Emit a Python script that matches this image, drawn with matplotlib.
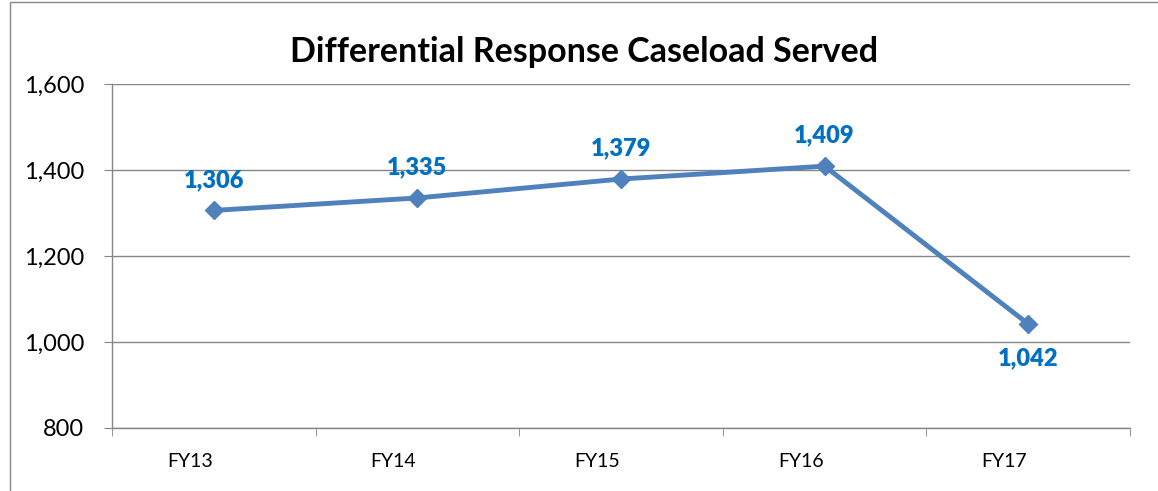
import matplotlib
matplotlib.use("Agg")
import matplotlib.pyplot as plt
from matplotlib.patches import Rectangle
from matplotlib.transforms import ScaledTranslation

categories = ["FY13", "FY14", "FY15", "FY16", "FY17"]
values = [1306, 1335, 1379, 1409, 1042]
yticks = [800, 1000, 1200, 1400, 1600]
title = "Differential Response Caseload Served"

plt.rcParams['font.family'] = ['Lato', 'DejaVu Sans']

fig = plt.figure(figsize=(11.58, 4.91), dpi=100)
fig.patches.append(Rectangle((10/1158, -0.01), 1.05, 1 - 2/491 + 0.01, transform=fig.transFigure,
                             fill=False, edgecolor='#868686', linewidth=1.0))
ax = fig.add_axes([112/1158, 1 - 428/491, (1130 - 112)/1158, (428 - 84)/491])

x = list(range(len(categories)))
ax.plot(x, values, color='#4F81BD', linewidth=3.5, marker='D', markersize=9,
        markerfacecolor='#4F81BD', markeredgecolor='#4F81BD', zorder=3)

for xi, v in zip(x, values):
    if xi == len(values) - 1:
        ax.annotate(f"{v:,}", (xi, v), xytext=(0, -25), textcoords='offset points',
                    ha='center', va='center', color='#0070C0', fontsize=17, fontweight='heavy')
    else:
        ax.annotate(f"{v:,}", (xi, v), xytext=(0, 22), textcoords='offset points',
                    ha='center', va='center', color='#0070C0', fontsize=17, fontweight='heavy')

ax.set_xlim(-0.5, len(categories) - 0.5)
ax.set_ylim(800, 1600)
ax.set_yticks(yticks)
ax.set_yticklabels([f"{t:,}" for t in yticks], fontsize=17)
ax.set_xticks(x)
ax.set_xticklabels(categories, fontsize=14)
ax.tick_params(axis='x', length=0, pad=18)
shift = ScaledTranslation(-24/100, 0, fig.dpi_scale_trans)
for lab in ax.get_xticklabels():
    lab.set_transform(lab.get_transform() + shift)
ax.set_xticks([i - 0.5 for i in range(len(categories) + 1)], minor=True)
ax.tick_params(axis='x', which='minor', length=6, color='#868686', direction='out')
ax.tick_params(axis='y', length=6, color='#868686', direction='out', pad=14)
ax.yaxis.grid(True, color='#868686', linewidth=1.0)
ax.set_axisbelow(True)
for s in ['top', 'right']:
    ax.spines[s].set_visible(False)
for s in ['left', 'bottom']:
    ax.spines[s].set_color('#868686')
    ax.spines[s].set_linewidth(1.0)

fig.text(584/1158, 1 - 52/491, title, ha='center', va='center', fontsize=24.5, fontweight='bold')

fig.savefig("out.png", dpi=100)
